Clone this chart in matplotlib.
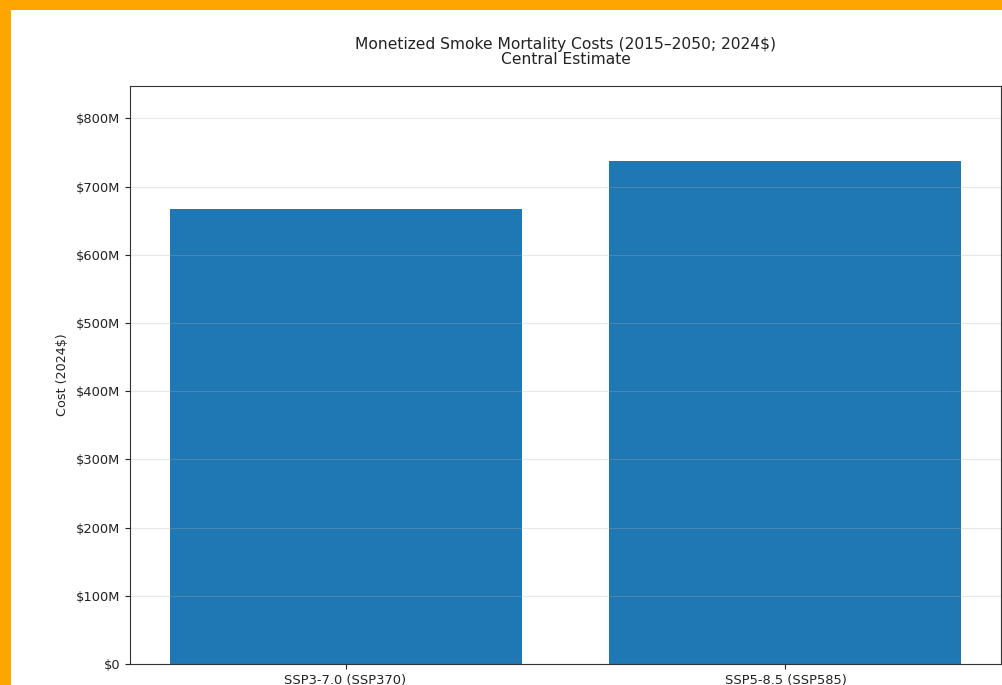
import matplotlib
matplotlib.use('agg')
import matplotlib.pyplot as plt
from matplotlib.patches import Rectangle
from matplotlib.ticker import FuncFormatter

# data
scenarios = ['SSP3-7.0 (SSP370)', 'SSP5-8.5 (SSP585)']
costs_musd = [667, 737]   # millions of 2024$

W, H = 1003, 685
fig = plt.figure(figsize=(W / 100, H / 100), dpi=100, facecolor='#FFA500')
# white page inside the orange frame
fig.patches.append(Rectangle((11 / W, 0), 1 - 11 / W, 1 - 10 / H,
                             transform=fig.transFigure, facecolor='white',
                             edgecolor='none', zorder=-5))

ax = fig.add_axes([130 / W, (H - 664) / H, (1001 - 130) / W, (664 - 86) / H])
ax.bar(range(len(scenarios)), [c * 1e6 for c in costs_musd], color='#1f77b4', width=0.8)
ax.set_xticks(range(len(scenarios)))
ax.set_xticklabels(scenarios)
ax.set_ylim(0, max(costs_musd) * 1e6 * 1.15)
ax.yaxis.set_major_formatter(FuncFormatter(lambda v, p: '$0' if v == 0 else f'${v/1e6:.0f}M'))
ax.tick_params(labelsize=9.4, colors='#222222')
ax.set_ylabel('Cost (2024$)', fontsize=9.2, color='#222222', labelpad=5)
ax.set_title('Monetized Smoke Mortality Costs (2015\u20132050; 2024$)\nCentral Estimate',
             fontsize=11.2, linespacing=1.0, pad=16, color='#222222')
ax.grid(axis='y', alpha=0.3)
for s in ax.spines.values():
    s.set_color('#333333')

fig.savefig('out.png', dpi=100, facecolor=fig.get_facecolor())
